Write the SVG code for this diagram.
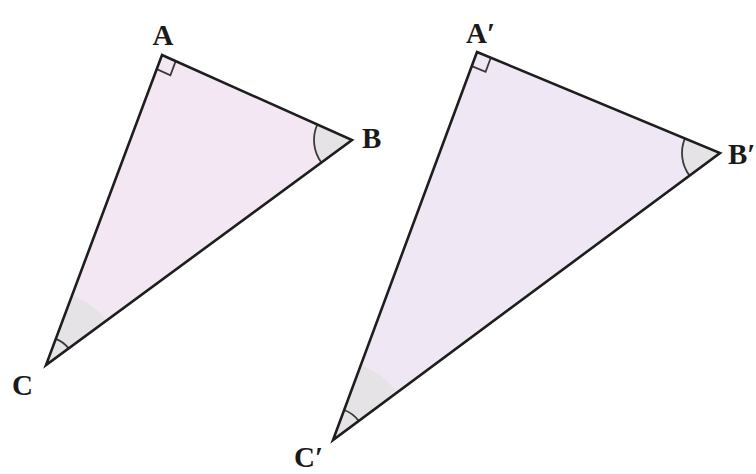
<svg xmlns="http://www.w3.org/2000/svg" width="756" height="474" viewBox="0 0 756 474">
<style>
.edge{fill:none;stroke:#1e1e1e;stroke-width:2.6;stroke-linejoin:miter}
.mark{fill:none;stroke:#3a3a3a;stroke-width:1.8}
.shade{fill:#e6e3e7;stroke:none}
.lbl{font-family:"Liberation Serif",serif;font-size:29px;font-weight:bold;fill:#1a1a1a}
</style>
<rect width="756" height="474" fill="#ffffff"/>
<g id="triangle-ABC">
<polygon points="162,55 352,140 46,365" fill="#f3e7f3" stroke="none"/>
<path class="shade" d="M46,365 L72.2,295.4 A75,75 0 0 1 106.4,320.6 Z"/>
<path class="shade" d="M352,140 L317.3,124.5 A38,38 0 0 0 321.4,162.5 Z"/>
<path class="mark" d="M55.8,338.8 A28,28 0 0 1 68.6,348.4"/>
<path class="mark" d="M317.3,124.5 A38,38 0 0 0 321.4,162.5"/>
<polyline class="mark" points="175.7,61.1 170.4,75.2 156.8,69.1"/>
<polygon class="edge" points="162,55 352,140 46,365"/>
<text class="lbl" x="163" y="45" text-anchor="middle">A</text>
<text class="lbl" x="362" y="148">B</text>
<text class="lbl" x="12" y="395">C</text>
</g>
<g id="triangle-A1B1C1">
<polygon points="477,52 720,153 333,440" fill="#efe7f3" stroke="none"/>
<path class="shade" d="M333,440 L360.8,365.0 A80,80 0 0 1 397.2,392.3 Z"/>
<path class="shade" d="M720,153 L684.9,138.4 A38,38 0 0 0 689.5,175.6 Z"/>
<path class="mark" d="M344.1,410.0 A32,32 0 0 1 358.7,420.9"/>
<path class="mark" d="M684.9,138.4 A38,38 0 0 0 689.5,175.6"/>
<polyline class="mark" points="490.8,57.8 485.6,71.9 471.8,66.1"/>
<polygon class="edge" points="477,52 720,153 333,440"/>
<text class="lbl" x="466" y="43">A′</text>
<text class="lbl" x="728" y="164">B′</text>
<text class="lbl" x="294" y="467">C′</text>
</g>
</svg>
